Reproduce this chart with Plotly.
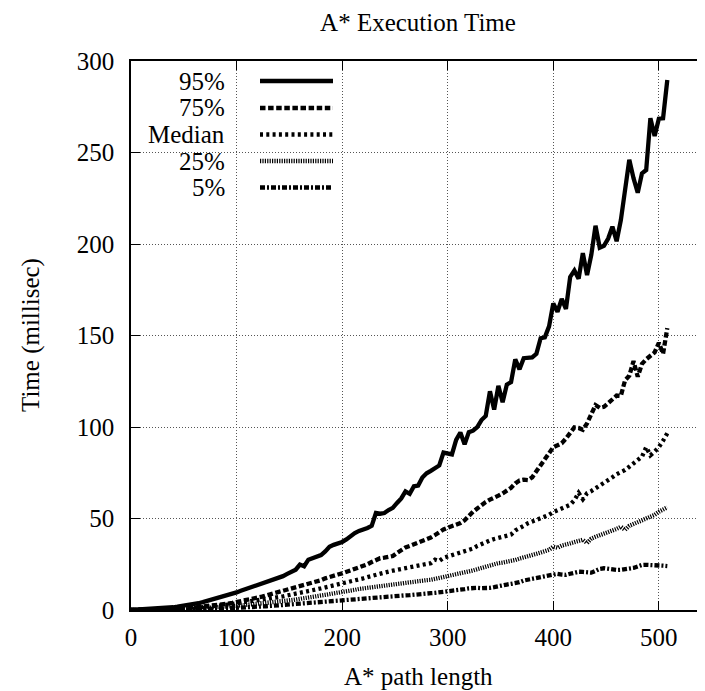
import plotly.graph_objects as go

# ---------------- data ----------------
path_length = [0, 4, 8, 12, 16, 20, 24, 28, 32, 36, 40, 44, 48, 52, 56, 60, 64, 68, 72, 76,
               80, 84, 88, 92, 96, 100, 104, 108, 112, 116, 120, 124, 128, 132, 136, 140, 144, 148, 152, 156,
               160, 164, 168, 172, 176, 180, 184, 188, 192, 196, 200, 204, 208, 212, 216, 220, 224, 228, 232, 236,
               240, 244, 248, 252, 256, 260, 264, 268, 272, 276, 280, 284, 288, 292, 296, 300, 304, 308, 312, 316,
               320, 324, 328, 332, 336, 340, 344, 348, 352, 356, 360, 364, 368, 372, 376, 380, 384, 388, 392, 396,
               400, 404, 408, 412, 416, 420, 424, 428, 432, 436, 440, 444, 448, 452, 456, 460, 464, 468, 472, 476,
               480, 484, 488, 492, 496, 500, 504, 508]

p95 = [0, 0.1, 0.2, 0.3, 0.4, 0.5, 0.6, 0.8, 1.0, 1.2, 1.5, 1.8, 2.1, 2.5, 2.9, 3.3, 3.7, 4.3, 4.9, 5.6,
       6.3, 7.0, 7.6, 8.2, 8.9, 9.6, 10.5, 11.3, 12.1, 13.0, 13.6, 14.3, 15.0, 15.9, 16.8, 17.6, 18.5, 19.7, 20.6, 22.0,
       24.8, 23.9, 27.5, 28.3, 28.9, 30.0, 32.0, 34.5, 35.6, 36.3, 37.2, 38.6, 40.4, 42.0, 43.2, 43.9, 44.8, 46.0, 53.0, 52.6,
       53.0, 54.6, 55.8, 58.5, 61.0, 64.8, 63.5, 67.6, 68.0, 72.4, 74.7, 76.0, 77.4, 79.0, 86.0, 85.5, 85.0, 93.0, 97.0, 90.5,
       97.2, 98.0, 100.0, 103.8, 106.0, 119.5, 109.5, 122.5, 113.5, 123.2, 124.5, 137.0, 131.5, 137.6, 138.0, 138.0, 140.0, 148.5, 149.0, 155.0,
       167.5, 163.0, 170.0, 164.5, 182.0, 185.5, 181.0, 195.0, 183.0, 194.0, 210.0, 198.0, 199.0, 203.0, 209.5, 201.5, 213.0, 230.0, 246.0, 236.0,
       228.0, 238.6, 240.4, 268.7, 259.0, 268.5, 268.7, 289.6]

p75 = [0, 0.05, 0.1, 0.15, 0.2, 0.25, 0.3, 0.4, 0.5, 0.6, 0.7, 0.8, 0.9, 1.0, 1.2, 1.4, 1.6, 1.8, 2.0, 2.3,
       2.6, 2.9, 3.2, 3.5, 3.9, 4.3, 4.7, 5.2, 5.7, 6.2, 6.8, 7.3, 7.9, 8.5, 9.1, 9.7, 10.3, 11.0, 11.6, 12.3,
       12.9, 13.5, 14.1, 14.8, 15.4, 16.3, 17.3, 18.2, 18.8, 19.4, 20.0, 20.8, 21.5, 22.3, 23.0, 23.8, 25.0, 26.2, 27.4, 28.3,
       28.6, 29.0, 29.5, 31.2, 33.0, 34.2, 35.0, 35.8, 36.6, 37.6, 38.5, 39.6, 41.0, 42.6, 44.0, 45.0, 45.8, 46.7, 47.5, 49.0,
       51.5, 53.7, 55.5, 57.5, 59.0, 60.3, 61.2, 62.5, 63.7, 65.0, 66.8, 69.2, 70.8, 71.2, 71.0, 72.5, 75.8, 79.0, 82.0, 85.2,
       89.0, 90.0, 91.1, 93.7, 96.6, 99.8, 99.5, 98.5, 102.0, 107.0, 112.0, 110.5, 111.0, 113.0, 115.5, 117.2, 117.0, 125.5, 128.0, 136.0,
       127.5, 134.5, 137.0, 138.8, 140.8, 146.0, 140.0, 154.0]

median = [0, 0.02, 0.05, 0.08, 0.1, 0.15, 0.2, 0.25, 0.3, 0.4, 0.5, 0.6, 0.7, 0.8, 0.95, 1.1, 1.3, 1.5, 1.7, 1.9,
          2.1, 2.4, 2.7, 3.0, 3.3, 3.6, 3.9, 4.2, 4.5, 4.9, 5.2, 5.6, 6.0, 6.3, 6.7, 7.1, 7.5, 7.9, 8.4, 8.9,
          9.3, 9.8, 10.3, 10.8, 11.3, 11.8, 12.3, 12.7, 13.3, 13.9, 14.6, 15.1, 15.6, 16.3, 16.8, 17.3, 18.0, 18.7, 19.4, 20.0,
          20.5, 21.0, 21.5, 22.0, 22.4, 22.9, 23.4, 23.8, 24.2, 24.7, 25.2, 25.6, 27.5, 26.8, 28.5, 29.2, 29.9, 30.5, 31.0, 31.8,
          32.6, 33.6, 35.0, 36.2, 37.2, 38.0, 38.8, 39.5, 40.2, 40.6, 41.2, 43.5, 44.5, 46.0, 47.4, 48.3, 49.6, 50.6, 51.4, 52.0,
          53.5, 54.4, 55.2, 56.0, 57.5, 60.0, 64.0, 60.5, 63.8, 65.0, 66.5, 67.8, 69.0, 70.5, 72.5, 74.2, 75.3, 76.5, 78.3, 80.2,
          82.0, 83.8, 89.0, 84.5, 86.5, 89.0, 92.5, 96.6]

p25 = [0, 0.01, 0.03, 0.05, 0.07, 0.1, 0.13, 0.17, 0.2, 0.25, 0.3, 0.37, 0.44, 0.5, 0.6, 0.7, 0.8, 0.9, 1.0, 1.15,
       1.3, 1.5, 1.7, 1.9, 2.1, 2.3, 2.5, 2.7, 2.9, 3.1, 3.3, 3.6, 3.9, 4.1, 4.3, 4.5, 4.8, 5.1, 5.4, 5.7,
       6.0, 6.3, 6.7, 7.1, 7.5, 7.9, 8.3, 8.7, 9.0, 9.4, 9.8, 10.1, 10.5, 11.0, 11.5, 11.8, 12.2, 12.5, 12.9, 13.1,
       13.5, 14.0, 14.4, 14.7, 14.9, 15.1, 15.3, 15.6, 15.9, 16.1, 16.3, 16.5, 17.0, 17.5, 17.9, 18.4, 18.8, 19.2, 19.7, 20.2,
       20.9, 21.6, 22.3, 23.0, 23.8, 24.5, 25.2, 25.6, 25.9, 26.2, 26.5, 27.3, 28.1, 28.6, 29.3, 30.0, 30.7, 31.4, 32.1, 32.9,
       34.6, 34.0, 35.2, 35.6, 36.4, 37.1, 37.8, 38.4, 36.6, 39.0, 40.0, 40.8, 41.8, 42.8, 43.6, 44.3, 45.5, 43.8, 46.0, 47.0,
       47.8, 48.7, 49.6, 50.5, 52.0, 53.7, 55.0, 56.1]

p5 = [0, 0.0, 0.02, 0.03, 0.04, 0.05, 0.07, 0.09, 0.11, 0.13, 0.15, 0.18, 0.21, 0.25, 0.3, 0.35, 0.4, 0.45, 0.5, 0.56,
      0.63, 0.7, 0.8, 0.9, 1.0, 1.1, 1.2, 1.3, 1.45, 1.6, 1.75, 1.9, 2.05, 2.2, 2.4, 2.6, 2.75, 2.9, 3.05, 3.2,
      3.35, 3.5, 3.65, 3.8, 4.0, 4.2, 4.4, 4.6, 4.8, 5.1, 5.3, 5.5, 5.7, 6.0, 6.2, 6.4, 6.6, 6.9, 7.1, 7.3,
      7.4, 7.5, 7.6, 7.7, 7.8, 8.0, 8.1, 8.2, 8.5, 8.8, 9.0, 9.2, 9.4, 9.6, 9.9, 10.1, 10.4, 10.8, 11.1, 11.4,
      11.8, 12.2, 12.1, 11.9, 11.8, 12.1, 12.5, 12.8, 13.3, 13.9, 14.3, 14.6, 15.2, 16.1, 16.6, 17.1, 17.4, 17.8, 18.3, 18.7,
      19.5, 19.8, 19.4, 19.2, 19.8, 20.4, 20.9, 20.8, 20.6, 20.4, 21.4, 22.5, 22.8, 22.3, 22.0, 21.9, 22.0, 22.2, 22.5, 23.0,
      23.8, 24.6, 24.7, 24.7, 24.6, 24.5, 24.2, 24.0]

series_names = ["95%", "75%", "Median", "25%", "5%"]
x_ticks = [0, 100, 200, 300, 400, 500]
y_ticks = [0, 50, 100, 150, 200, 250, 300]

# ---------------- styling / layout ----------------
# The page body has an 8px default margin; the figure is sized so that it
# fills the 705x691 window from (8, 8). Reference pixel positions are mapped
# through OFF.
OFF = 8
WIN_W, WIN_H = 705, 691
W, H = WIN_W - OFF, WIN_H - OFF
PLOT_L, PLOT_T, PLOT_B = 131, 61, 610          # window pixels of the plot area
L, T = PLOT_L - OFF, PLOT_T - OFF
B = H - (PLOT_B - OFF)
PW, PH = W - L, H - T - B
FONT = "Liberation Serif, Times New Roman, serif"
FS = 25

dashes = ["solid", "5.5px,2.6px", "3px,3.3px", "1.2px,1.2px", "5px,2px,2px,2px"]
LW = 4.3

def px_x(p):  # window pixel -> paper x
    return (p - PLOT_L) / PW

def px_y(p):  # window pixel -> paper y
    return (PLOT_B - p) / PH

fig = go.Figure()
all_series = [p95, p75, median, p25, p5]
for name, ys, d in zip(series_names, all_series, dashes):
    fig.add_trace(go.Scatter(x=path_length, y=ys, mode="lines", name=name,
                             line=dict(color="black", width=LW, dash=d),
                             showlegend=False))

axis_common = dict(
    showline=True, linecolor="black", linewidth=1.5,
    ticks="inside", ticklen=9, tickwidth=1, tickcolor="black",
    showgrid=True, gridcolor="#555555", gridwidth=1, griddash="1px,2px",
    zeroline=False,
    tickfont=dict(family=FONT, size=FS, color="black"),
)

fig.update_xaxes(range=[0, PW / 1.0557], tickvals=x_ticks, mirror="allticks",
                 ticklabelstandoff=4, **axis_common)
fig.update_yaxes(range=[0, 300], tickvals=y_ticks, mirror=False,
                 ticklabelstandoff=10, **axis_common)

# legend (gnuplot-style: right-aligned text, samples on right, opaque box)
shapes = [dict(type="rect", xref="paper", yref="paper",
               x0=0, x1=px_x(348), y0=px_y(203), y1=1,
               fillcolor="white", line=dict(width=0), layer="between")]
annotations = []
row_y = [81, 108, 134.5, 161, 187.5]
for name, d, ry in zip(series_names, dashes, row_y):
    shapes.append(dict(type="line", xref="paper", yref="paper",
                       x0=px_x(260), x1=px_x(333), y0=px_y(ry), y1=px_y(ry),
                       line=dict(color="black", width=LW, dash=d)))
    annotations.append(dict(text=name, xref="paper", yref="paper",
                            x=px_x(227), y=px_y(ry), xanchor="right", yanchor="middle",
                            showarrow=False,
                            font=dict(family=FONT, size=FS, color="black")))

annotations.append(dict(text="A* path length", xref="paper", yref="paper",
                        x=px_x(418), y=px_y(676), xanchor="center", yanchor="middle",
                        showarrow=False, font=dict(family=FONT, size=FS, color="black")))
annotations.append(dict(text="Time (millisec)", xref="paper", yref="paper",
                        x=px_x(31), y=px_y(335), xanchor="center", yanchor="middle",
                        textangle=-90, showarrow=False,
                        font=dict(family=FONT, size=FS, color="black")))

fig.update_layout(
    width=W, height=H,
    margin=dict(l=L, r=0, t=T, b=B, pad=0),
    paper_bgcolor="white", plot_bgcolor="white",
    title=dict(text="A* Execution Time", x=px_x(418), xref="paper",
               y=1 - (22 - OFF) / H, yref="container", xanchor="center", yanchor="middle",
               font=dict(family=FONT, size=FS, color="black")),
    shapes=shapes, annotations=annotations,
    showlegend=False,
)

fig.write_html("out.html")
